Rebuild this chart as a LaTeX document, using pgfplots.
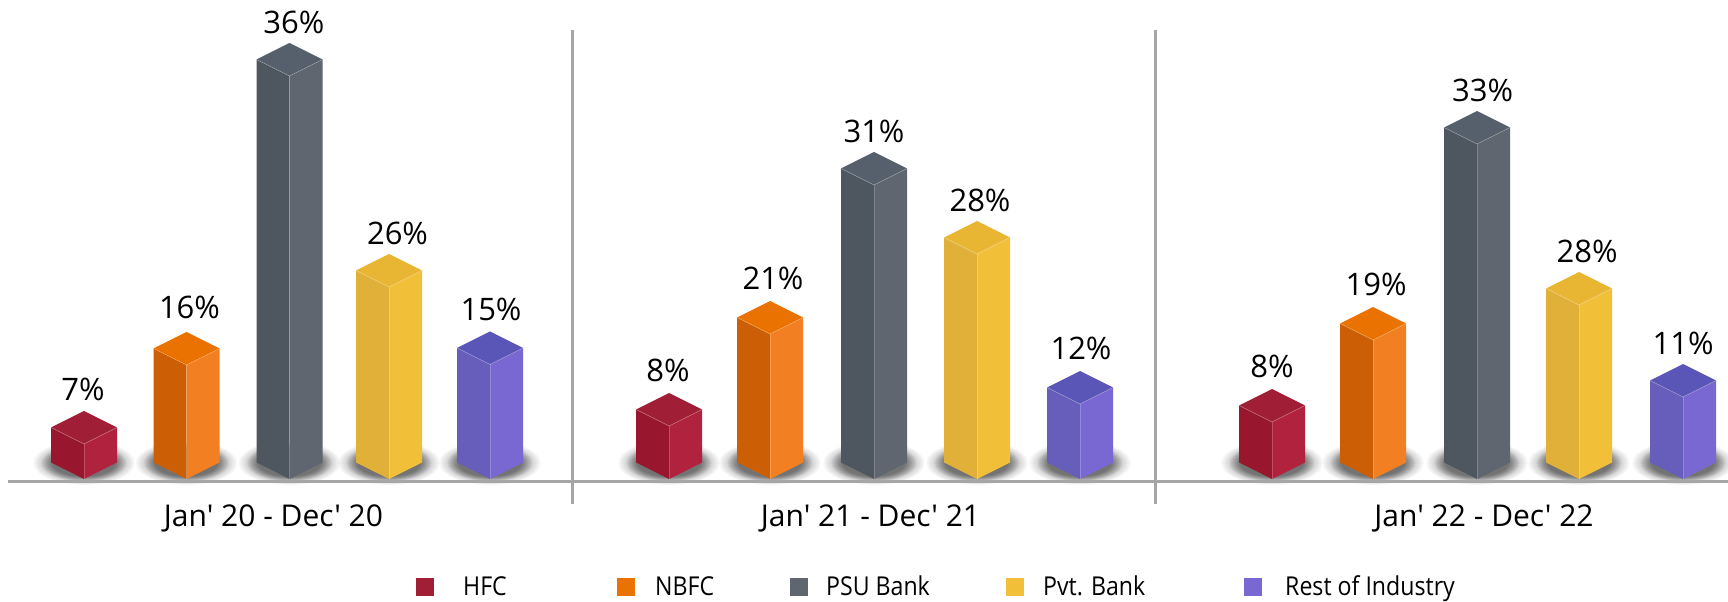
\documentclass[border=0pt]{standalone}
\usepackage{fontspec}
\usepackage{pgfplots}
\usepackage{pgfplotstable}
\pgfplotsset{compat=1.18}
\newfontfamily\osf{Open Sans}
\newfontfamily\osfc[FakeStretch=0.89]{Open Sans}
\definecolor{hfcL}{HTML}{98162E}\definecolor{hfcR}{HTML}{B0223E}\definecolor{hfcT}{HTML}{A11F36}
\definecolor{nbfL}{HTML}{CC5E05}\definecolor{nbfR}{HTML}{F28022}\definecolor{nbfT}{HTML}{E97200}
\definecolor{psuL}{HTML}{4E5660}\definecolor{psuR}{HTML}{5F6670}\definecolor{psuT}{HTML}{56606C}
\definecolor{pvtL}{HTML}{E1B039}\definecolor{pvtR}{HTML}{F2C038}\definecolor{pvtT}{HTML}{E9B634}
\definecolor{resL}{HTML}{675EBB}\definecolor{resR}{HTML}{7A68D2}\definecolor{resT}{HTML}{5A56B8}
\definecolor{rule}{HTML}{A6A6A6}
\newcommand{\barshadow}[1]{%
  \pgfplotsinvokeforeach{1.00,0.98,0.96,0.94,0.92,0.90,0.88,0.86}{%
    \fill[black,fill opacity=0.018] (axis cs:#1,16) ellipse [x radius={51*##1},y radius={22*##1}];}%
  \pgfplotsinvokeforeach{0.84,0.82,0.80,0.78,0.76,0.74,0.72,0.70,0.68,0.66,0.64,0.62}{%
    \fill[black,fill opacity=0.05] (axis cs:#1,16) ellipse [x radius={51*##1},y radius={22*##1}];}}
\newcommand{\threeD}[3]{%
  \pgfmathsetmacro\xa{#1-33}\pgfmathsetmacro\xb{#1+33}%
  \pgfmathsetmacro\ya{#2+16.5}\pgfmathsetmacro\yb{#2+33}%
  \addplot[fill=#3L,draw=none,forget plot] coordinates {(\xa,16.5)(#1,0)(#1,#2)(\xa,\ya)} --cycle;
  \addplot[fill=#3R,draw=none,forget plot] coordinates {(\xb,16.5)(#1,0)(#1,#2)(\xb,\ya)} --cycle;
  \addplot[fill=#3T,draw=none,forget plot] coordinates {(#1,#2)(\xb,\ya)(#1,\yb)(\xa,\ya)} --cycle;
  \addplot[draw=white,draw opacity=.3,line width=.6bp,forget plot] coordinates {(\xa,\ya)(#1,#2)(\xb,\ya)};
  \addplot[draw=white,draw opacity=.2,line width=.6bp,forget plot] coordinates {(#1,#2)(#1,0)};
}
\pgfplotsset{pctlabels/.style={only marks,mark=none,point meta=explicit symbolic,forget plot,
  nodes near coords={\pgfplotspointmeta\%}}}
\pgfplotstableread{
x h pct dx dy
84 35 7 -1 1
669 53 8 -1 2
1272 57 8 0 2
}\hfc
\pgfplotstableread{
x h pct dx dy
186.5 114 16 3 4
770 145 21 3 2
1373 139 19 3 2
}\nbfc
\pgfplotstableread{
x h pct dx dy
289.5 403 36 4.4 0
874 294 31 0 0
1477 335 33 5.5 0
}\psu
\pgfplotstableread{
x h pct dx dy
389 192 26 8.5 0
977 225 28 3 0
1579 174 28 8 0
}\pvt
\pgfplotstableread{
x h pct dx dy
490 114.5 15 1 2
1080 75 12 1 2
1683 82 11 0 0
}\rest
\begin{document}
\begin{tikzpicture}
\useasboundingbox (0,0) rectangle (1728bp,602bp);
\begin{axis}[
  at={(0,0)},anchor=south west,
  scale only axis,width=1728bp,height=602bp,
  xmin=0,xmax=1728,ymin=-123,ymax=479,
  clip mode=global,
  axis x line=middle,axis y line=none,
  axis line style={draw=none,-},
  xtick={273.5,870.5,1484},
  xticklabels={Jan' 20 - Dec' 20,Jan' 21 - Dec' 21,Jan' 22 - Dec' 22},
  major tick length=0pt,
  ytick=\empty,
  xticklabel style={anchor=base,yshift=-48bp,inner sep=0pt,font=\osf\fontsize{30bp}{36bp}\selectfont},
  every node near coord/.style={anchor=base,yshift=9bp,inner sep=0pt,black,font=\osf\fontsize{31bp}{37bp}\selectfont},
  legend style={at={(axis cs:416,-107)},anchor=west,draw=none,fill=none,inner sep=0pt,
    nodes={inner sep=0pt,anchor=base},legend columns=-1,
    font=\osfc\fontsize{26bp}{31bp}\selectfont,
    /tikz/every even column/.style={column sep=0pt},
    /tikz/column sep=0pt},
  legend image code/.code={\path[#1,draw=none] (0bp,-1bp) rectangle (18bp,17bp);},
]
\barshadow{84}\barshadow{186.5}\barshadow{289.5}\barshadow{389}\barshadow{490}
\barshadow{669}\barshadow{770}\barshadow{874}\barshadow{977}\barshadow{1080}
\barshadow{1272}\barshadow{1373}\barshadow{1477}\barshadow{1579}\barshadow{1683}
\addplot[draw=rule,line width=3bp,forget plot] coordinates {(8,-3)(1728,-3)};
\addplot[draw=rule,line width=3bp,forget plot] coordinates {(572,449)(572,-25)};
\addplot[draw=rule,line width=3bp,forget plot] coordinates {(1155.7,449)(1155.7,-25)};
\threeD{84}{35}{hfc}\threeD{669}{53}{hfc}\threeD{1272}{57}{hfc}
\threeD{186.5}{114}{nbf}\threeD{770}{145}{nbf}\threeD{1373}{139}{nbf}
\threeD{289.5}{403}{psu}\threeD{874}{294}{psu}\threeD{1477}{335}{psu}
\threeD{389}{192}{pvt}\threeD{977}{225}{pvt}\threeD{1579}{174}{pvt}
\threeD{490}{114.5}{res}\threeD{1080}{75}{res}\threeD{1683}{82}{res}
\addplot[pctlabels] table[x expr=\thisrow{x}+\thisrow{dx},y expr=\thisrow{h}+33+\thisrow{dy},meta=pct] {\hfc};
\addplot[pctlabels] table[x expr=\thisrow{x}+\thisrow{dx},y expr=\thisrow{h}+33+\thisrow{dy},meta=pct] {\nbfc};
\addplot[pctlabels] table[x expr=\thisrow{x}+\thisrow{dx},y expr=\thisrow{h}+33+\thisrow{dy},meta=pct] {\psu};
\addplot[pctlabels] table[x expr=\thisrow{x}+\thisrow{dx},y expr=\thisrow{h}+33+\thisrow{dy},meta=pct] {\pvt};
\addplot[pctlabels] table[x expr=\thisrow{x}+\thisrow{dx},y expr=\thisrow{h}+33+\thisrow{dy},meta=pct] {\rest};
\addlegendimage{fill=hfcT}\addlegendentry{\hspace{29bp}\makebox[154bp][l]{HFC}}
\addlegendimage{fill=nbfT}\addlegendentry{\hspace{20bp}\makebox[135bp][l]{NBFC}}
\addlegendimage{fill=psuR}\addlegendentry{\hspace{18bp}\makebox[179.5bp][l]{PSU Bank}}
\addlegendimage{fill=pvtR}\addlegendentry{\hspace{19.5bp}\makebox[201bp][l]{Pvt. Bank}}
\addlegendimage{fill=resR}\addlegendentry{\hspace{23bp}\makebox[170bp][l]{Rest of Industry}}
\end{axis}
\end{tikzpicture}
\end{document}
